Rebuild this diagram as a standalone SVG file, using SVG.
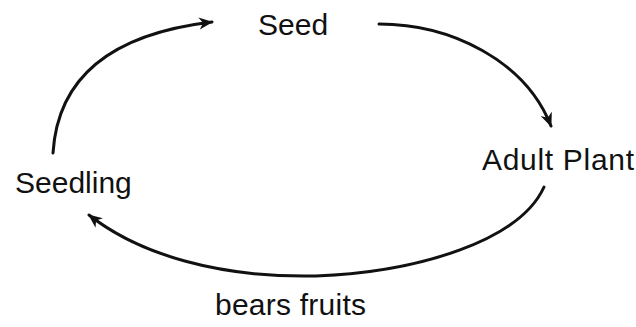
<svg xmlns="http://www.w3.org/2000/svg" width="636" height="327" viewBox="0 0 636 327">
<style>
.lbl{font-family:"Liberation Sans",Arial,sans-serif;font-size:30px;fill:#111;}
.edge{fill:none;stroke:#111;stroke-width:3;stroke-linecap:round;}
</style>
<defs>
<marker id="ah" viewBox="-14 -7 16 14" refX="0" refY="0" markerWidth="16" markerHeight="14" markerUnits="userSpaceOnUse" orient="auto">
<path d="M1,0 L-13,-6 L-9,0 L-13,6 Z" fill="#111"/>
</marker>
</defs>
<rect width="636" height="327" fill="#fff"/>
<g id="connectors">
<path class="edge" d="M53,153 Q60,40 212,22" marker-end="url(#ah)"/>
<path class="edge" d="M379,24 C450,24 525,60 551,126" marker-end="url(#ah)"/>
<path class="edge" d="M544,187 C520,240 420,272 316,276 C220,278 140,255 89,215" marker-end="url(#ah)"/>
</g>
<g id="seed"><text class="lbl" x="258" y="35">Seed</text></g>
<g id="adult-plant"><text class="lbl" x="482" y="170" textLength="152">Adult Plant</text></g>
<g id="seedling"><text class="lbl" x="15" y="193">Seedling</text></g>
<g id="bears-fruits"><text class="lbl" x="215" y="315" textLength="151">bears fruits</text></g>
</svg>
